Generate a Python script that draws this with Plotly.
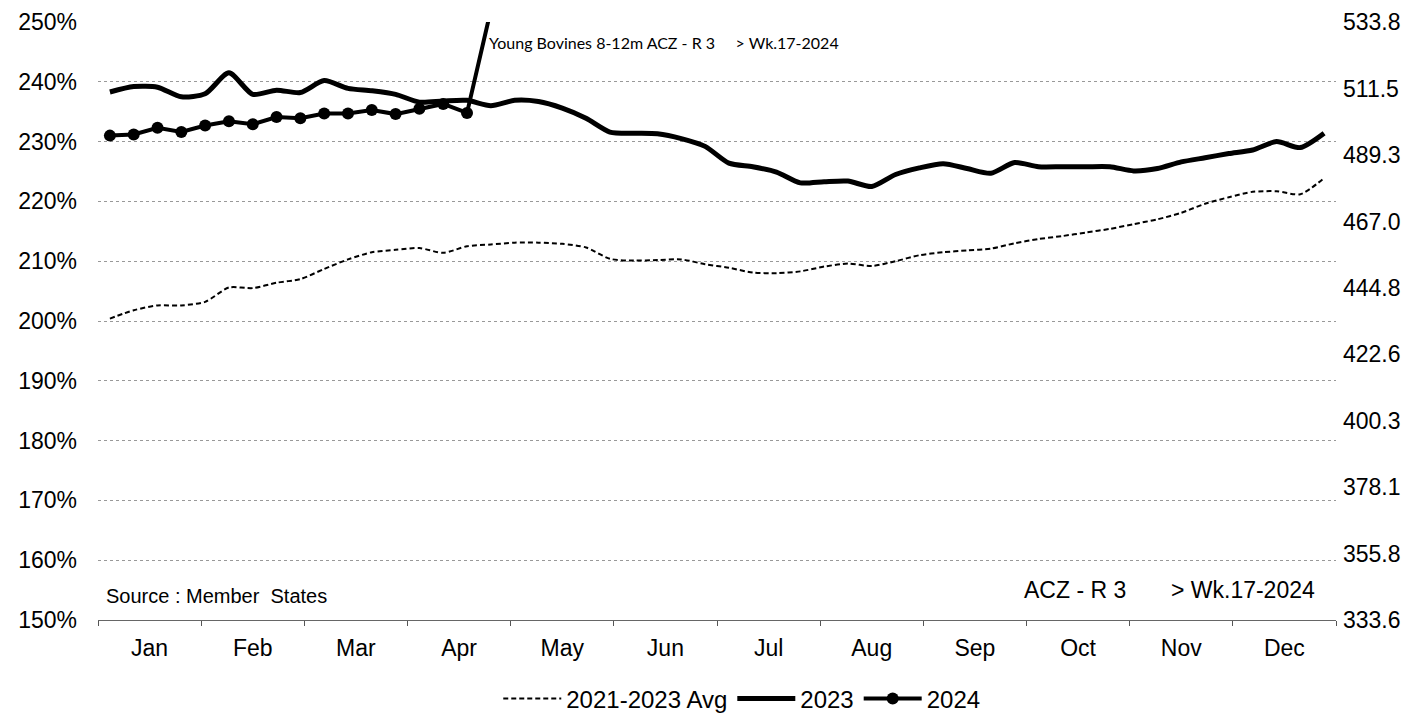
import plotly.graph_objects as go

weeks = list(range(1, 53))
months = ["Jan", "Feb", "Mar", "Apr", "May", "Jun", "Jul", "Aug", "Sep", "Oct", "Nov", "Dec"]

avg_2021_2023 = [200.4, 201.8, 202.6, 202.6, 203.2, 205.6, 205.5, 206.4, 207.0, 208.7,
                 210.3, 211.5, 211.9, 212.2, 211.4, 212.5, 212.8, 213.1, 213.1, 212.9,
                 212.3, 210.4, 210.1, 210.2, 210.3, 209.5, 208.9, 208.1, 208.0, 208.3,
                 209.1, 209.6, 209.2, 210.0, 211.0, 211.5, 211.8, 212.1, 213.0, 213.7,
                 214.2, 214.8, 215.4, 216.2, 217.0, 218.1, 219.6, 220.7, 221.6, 221.7,
                 221.2, 223.9]

y2023 = [238.3, 239.2, 239.1, 237.5, 238.0, 241.5, 237.9, 238.6, 238.2, 240.2,
         238.9, 238.5, 237.9, 236.6, 236.8, 236.9, 236.0, 236.9, 236.7, 235.6,
         233.9, 231.6, 231.4, 231.3, 230.5, 229.2, 226.4, 225.8, 224.9, 223.1,
         223.3, 223.4, 222.5, 224.5, 225.6, 226.3, 225.5, 224.7, 226.5, 225.8,
         225.8, 225.8, 225.8, 225.1, 225.5, 226.6, 227.3, 228.0, 228.6, 230.0,
         229.0, 231.4]

y2024 = [231.0, 231.2, 232.3, 231.6, 232.7, 233.4, 232.9, 234.1, 233.9, 234.7,
         234.7, 235.3, 234.6, 235.5, 236.3, 234.8, 252.0]

left_ticks = [150, 160, 170, 180, 190, 200, 210, 220, 230, 240, 250]
right_ticks = [333.6, 355.8, 378.1, 400.3, 422.6, 444.8, 467.0, 489.3, 511.5, 533.8]

FONT = "Liberation Sans, Arial, sans-serif"
n_weeks = len(weeks)
month_len = n_weeks / len(months)
month_centers = [0.5 + month_len * (i + 0.5) for i in range(len(months))]
month_bounds = [0.5 + month_len * i for i in range(len(months) + 1)]

fig = go.Figure()
fig.add_trace(go.Scatter(
    x=weeks, y=avg_2021_2023, name="2021-2023 Avg", mode="lines",
    line=dict(color="black", width=2, dash="5px,3px", shape="spline", smoothing=0.7),
))
fig.add_trace(go.Scatter(
    x=weeks, y=y2023, name="2023", mode="lines",
    line=dict(color="black", width=5, shape="spline", smoothing=0.7),
))
fig.add_trace(go.Scatter(
    x=weeks[:len(y2024)], y=y2024, name="2024", mode="lines+markers",
    line=dict(color="black", width=4),
    marker=dict(color="black", size=12),
))
fig.add_trace(go.Scatter(
    x=[None], y=[None], yaxis="y2", showlegend=False, hoverinfo="skip",
))

fig.update_layout(
    width=1415, height=708,
    margin=dict(l=90, r=87, t=14, b=96, autoexpand=False),
    plot_bgcolor="white", paper_bgcolor="white",
    font=dict(family=FONT, size=23, color="black"),
    showlegend=True,
    legend=dict(orientation="h", x=0.52, xanchor="center", y=-0.132, yanchor="middle",
                font=dict(size=24), itemwidth=58, tracegroupgap=0),
    xaxis=dict(
        range=[0.5, n_weeks + 0.5],
        tickmode="array", tickvals=month_centers, ticktext=months,
        ticks="", showgrid=False, zeroline=False,
        showline=True, linecolor="#666", linewidth=1,
        ticklabelstandoff=7,
        tickfont=dict(size=23),
        minor=dict(tickmode="array", tickvals=month_bounds, ticks="outside",
                   ticklen=5, tickcolor="#555", tickwidth=1, showgrid=False),
    ),
    yaxis=dict(
        range=[150, 250], tickmode="array", tickvals=left_ticks,
        ticktext=[f"{v}%" for v in left_ticks],
        showgrid=True, gridcolor="#999", griddash="dot", gridwidth=1,
        zeroline=False, ticks="", ticklabelstandoff=20,
        tickfont=dict(size=23),
    ),
    yaxis2=dict(
        overlaying="y", side="right",
        range=[right_ticks[0], right_ticks[-1]],
        tickmode="array", tickvals=right_ticks,
        ticktext=[f"{v:.1f}" for v in right_ticks],
        showgrid=False, zeroline=False, ticks="", ticklabelstandoff=6,
        tickfont=dict(size=23),
    ),
    annotations=[
        dict(xref="paper", yref="paper", x=0.314, y=0.966, xanchor="left", yanchor="middle",
             text="Young Bovines 8-12m ACZ - R 3\u00a0\u00a0\u00a0\u00a0 > Wk.17-2024",
             showarrow=False, font=dict(family="Lato, sans-serif", size=16)),
        dict(xref="paper", yref="paper", x=0.985, y=0.05, xanchor="right", yanchor="middle",
             text="ACZ - R 3\u00a0\u00a0\u00a0\u00a0\u00a0\u00a0 > Wk.17-2024",
             showarrow=False, font=dict(size=23)),
        dict(xref="paper", yref="paper", x=0.005, y=0.04, xanchor="left", yanchor="middle",
             text="Source : Member\u00a0 States",
             showarrow=False, font=dict(size=20)),
    ],
)

fig.write_html("out.html")
